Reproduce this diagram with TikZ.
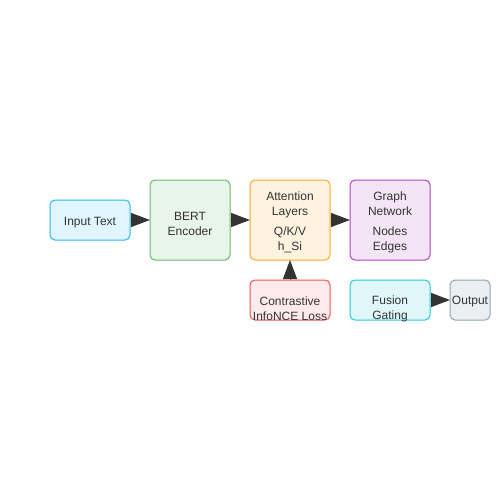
\documentclass[tikz,border=0pt]{standalone}
\usepackage{fontspec}
\setmainfont{Liberation Sans}
\usepackage{tikz}
\usetikzlibrary{shapes,arrows.meta,positioning}

\definecolor{inputline}{HTML}{29B6F6}
\definecolor{inputfill}{HTML}{E1F5FE}
\definecolor{bertline}{HTML}{66BB6A}
\definecolor{bertfill}{HTML}{E8F5E9}
\definecolor{attline}{HTML}{FFA726}
\definecolor{attfill}{HTML}{FFF3E0}
\definecolor{graphline}{HTML}{AB47BC}
\definecolor{graphfill}{HTML}{F3E5F5}
\definecolor{lossline}{HTML}{EF5350}
\definecolor{lossfill}{HTML}{FFEBEE}
\definecolor{fusionline}{HTML}{26C6DA}
\definecolor{fusionfill}{HTML}{E0F7FA}
\definecolor{outline}{HTML}{90A4AE}
\definecolor{outfill}{HTML}{ECEFF1}
\definecolor{textgray}{HTML}{333333}

\begin{document}
\begin{tikzpicture}[node distance=20pt, auto]
        % Define block styles
        \tikzstyle{block} = [rectangle, draw, line width=1pt, outer sep=0pt, rounded corners=5pt, inner sep=0pt, minimum width=80pt, minimum height=80pt]
        \tikzstyle{small} = [block, minimum height=40pt]
        \tikzstyle{boxtext} = [text=textgray, align=center, inner sep=0pt, font=\fontsize{12}{15}\selectfont]
        \tikzstyle{line} = [draw, line width=1pt, -{Triangle[length=19pt, width=14pt, color=textgray]}]

        \useasboundingbox (0,0) rectangle (500pt,-500pt);

        % Nodes
        \node [small, draw=inputline, fill=inputfill] (Input_Text) at (90pt,-220pt) {};
        \node [block, draw=bertline, fill=bertfill, right=of Input_Text] (BERT_Encoder) {};
        \node [block, draw=attline, fill=attfill, right=of BERT_Encoder] (Attention) {};
        \node [block, draw=graphline, fill=graphfill, right=of Attention] (Graph) {};
        \node [small, draw=lossline, fill=lossfill, below=of Attention] (Contrastive) {};
        \node [small, draw=fusionline, fill=fusionfill, right=of Contrastive] (Fusion) {};
        \node [small, draw=outline, fill=outfill, minimum width=40pt, right=of Fusion] (Output) {};

        % Texts
        \node [boxtext] (Input_Label) at ([yshift=-2.5pt]Input_Text.center) {Input Text};
        \node [boxtext] (BERT_Label) at ([yshift=-4pt]BERT_Encoder.center) {BERT\\Encoder};
        \node [boxtext] (Attention_Label) at ([yshift=-2pt]Attention.center) {Attention\\Layers\\[5pt]Q/K/V\\h\_Si};
        \node [boxtext] (Graph_Label) at ([yshift=-2pt]Graph.center) {Graph\\Network\\[5pt]Nodes\\Edges};
        \node [boxtext] (Contrastive_Label) at ([yshift=-9pt]Contrastive.center) {Contrastive\\InfoNCE Loss};
        \node [boxtext] (Fusion_Label) at ([yshift=-9pt]Fusion.center) {Fusion\\Gating};
        \node [boxtext] (Output_Label) at ([yshift=-2pt]Output.center) {Output};

        % Arrows
        \path [line, draw=inputline] (Input_Text.east) -- (BERT_Encoder.west);
        \path [line, draw=bertline] (BERT_Encoder.east) -- (Attention.west);
        \path [line, draw=attline] (Attention.east) -- (Graph.west);
        \path [line, draw=lossline] (Contrastive.north) -- (Attention.south);
        \path [line, draw=fusionline] (Fusion.east) -- (Output.west);
    \end{tikzpicture}
\end{document}
